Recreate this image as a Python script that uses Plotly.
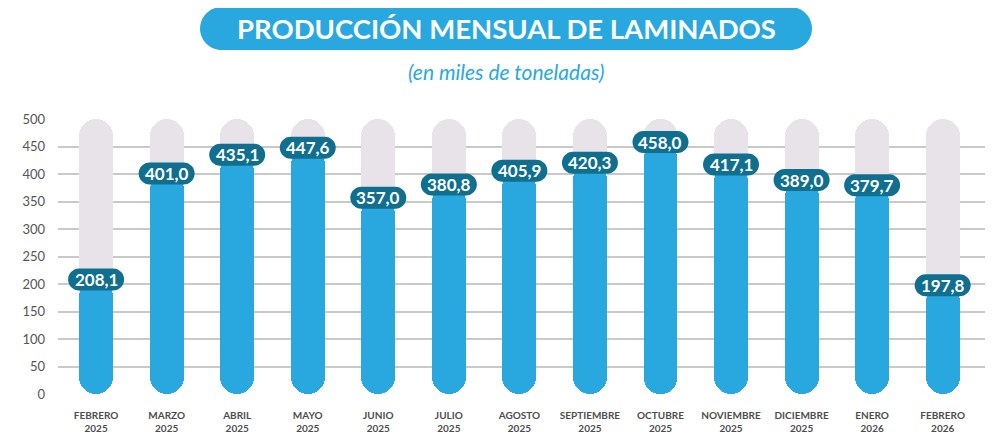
import plotly.graph_objects as go

months = ["FEBRERO<br>2025", "MARZO<br>2025", "ABRIL<br>2025", "MAYO<br>2025", "JUNIO<br>2025",
          "JULIO<br>2025", "AGOSTO<br>2025", "SEPTIEMBRE<br>2025", "OCTUBRE<br>2025",
          "NOVIEMBRE<br>2025", "DICIEMBRE<br>2025", "ENERO<br>2026", "FEBRERO<br>2026"]
values = [208.1, 401.0, 435.1, 447.6, 357.0, 380.8, 405.9, 420.3, 458.0, 417.1, 389.0, 379.7, 197.8]
y_max = 500
y_ticks = [0, 50, 100, 150, 200, 250, 300, 350, 400, 450, 500]

title_text = "PRODUCCIÓN MENSUAL DE LAMINADOS"
subtitle_text = "(en miles de toneladas)"

BLUE = "#29a8e0"
BG = "#e7e3e9"
DARK = "#106f8f"
FONT = "Lato"

def pill_path(w, h):
    r = h / 2.0
    a = w / 2.0 - r
    k = 0.5523 * r
    return (f"M {-a},{-r} L {a},{-r} "
            f"C {a + k},{-r} {a + r},{-k} {a + r},0 "
            f"C {a + r},{k} {a + k},{r} {a},{r} "
            f"L {-a},{r} "
            f"C {-a - k},{r} {-a - r},{k} {-a - r},0 "
            f"C {-a - r},{-k} {-a - k},{-r} {-a},{-r} Z")

fig = go.Figure()
# background pill (0..500), rounded top
fig.add_trace(go.Bar(x=months, y=[y_max] * len(months), base=0, width=0.48,
                     marker=dict(color=BG, cornerradius="50%", line=dict(width=0)),
                     hoverinfo="skip", showlegend=False))
# value bar drawn from value down to 0, so the rounded end is at the bottom
fig.add_trace(go.Bar(x=months, y=[-v for v in values], base=values, width=0.48,
                     marker=dict(color=BLUE, cornerradius="50%", line=dict(width=0)),
                     hovertemplate="%{x}: %{base}<extra></extra>", showlegend=False))

shapes = []
annotations = []
for m, v in zip(months, values):
    shapes.append(dict(type="path", xref="x", yref="y", xsizemode="pixel", ysizemode="pixel",
                       xanchor=m, yanchor=v, path=pill_path(56, 22),
                       fillcolor=DARK, line=dict(width=0), layer="above"))
    annotations.append(dict(x=m, y=v, xref="x", yref="y", showarrow=False,
                            xanchor="center", yanchor="middle",
                            text=f"<b>{v:.1f}</b>".replace(".", ","),
                            font=dict(family=FONT, size=17, color="white")))

# title pill
shapes.append(dict(type="path", xref="paper", yref="paper", xsizemode="pixel", ysizemode="pixel",
                   xanchor=0.4833, yanchor=1.329, path=pill_path(612, 43),
                   fillcolor=BLUE, line=dict(width=0), layer="above"))
annotations.append(dict(x=0.4833, y=1.329, xref="paper", yref="paper", showarrow=False,
                        xanchor="center", yanchor="middle",
                        text=f"<b>{title_text}</b>",
                        font=dict(family=FONT, size=27.5, color="white")))
annotations.append(dict(x=0.4833, y=1.171, xref="paper", yref="paper", showarrow=False,
                        xanchor="center", yanchor="middle",
                        text=f"<i>{subtitle_text}</i>",
                        font=dict(family=FONT, size=21, color=BLUE)))

# the page body has an 8px margin, so the figure is 8px smaller and margins compensate
fig.update_layout(
    width=988, height=427,
    margin=dict(l=50, r=11, t=111, b=41),
    paper_bgcolor="white", plot_bgcolor="white",
    barmode="overlay", bargap=0,
    shapes=shapes, annotations=annotations,
    xaxis=dict(type="category", range=[-0.54, 12.6], showgrid=False, zeroline=False,
               showline=False, ticks="", ticklabelstandoff=14, automargin=False,
               tickfont=dict(family=FONT, size=10, color="#4d4d4d", weight="bold"),
               fixedrange=True),
    yaxis=dict(range=[0, y_max], tickvals=y_ticks, showgrid=True, gridcolor="#c9c9c9",
               gridwidth=1.5, zeroline=False, showline=False, ticks="",
               ticklabelstandoff=12, automargin=False,
               tickfont=dict(family=FONT, size=13, color="#555555"), fixedrange=True),
)

fig.write_html("out.html")
